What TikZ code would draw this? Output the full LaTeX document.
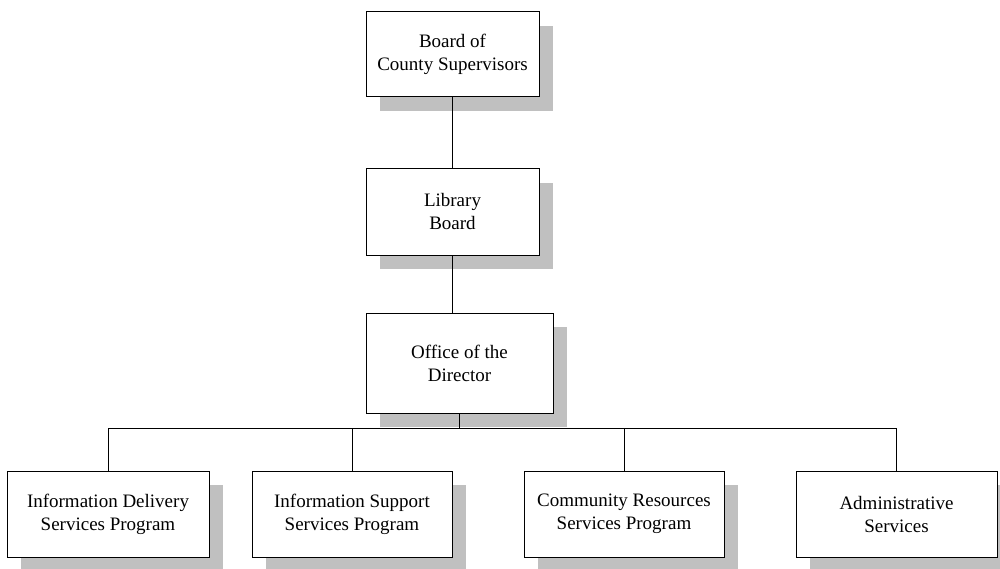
\documentclass[tikz,border=0pt]{standalone}
\usepackage{fontspec}
\setmainfont{Liberation Serif}
\usetikzlibrary{shadows}
\definecolor{shadowgray}{HTML}{C0C0C0}
\begin{document}
\begin{tikzpicture}[x=1pt,y=-1pt,
  orgbox/.style={draw=black, line width=1pt, fill=white, rectangle, align=center,
    inner sep=0pt, font=\fontsize{19}{23}\selectfont,
    drop shadow={shadow xshift=14pt, shadow yshift=-14pt, fill=shadowgray, opacity=1}},
  plainbox/.style={draw=black, line width=1pt, fill=white, rectangle, align=center,
    inner sep=0pt, font=\fontsize{19}{23}\selectfont},
  conn/.style={draw=black, line width=1pt}]
\useasboundingbox[fill=white] (0,0) rectangle (1000,569);
\node[orgbox, minimum width=173pt, minimum height=85pt] (board) at (452.5,54.5) {Board of\\County Supervisors};
\node[orgbox, minimum width=173pt, minimum height=86pt] (lib) at (452.5,212) {Library\\Board};
\node[orgbox, minimum width=187pt, minimum height=100pt] (office) at (459.5,363) {Office of the\\Director};
\node[orgbox, minimum width=202pt, minimum height=86pt] (b1) at (108,514) {Information Delivery\\Services Program};
\node[orgbox, minimum width=200pt, minimum height=86pt] (b2) at (352,514) {Information Support\\Services Program};
\node[orgbox, minimum width=200pt, minimum height=86pt] (b3) at (624,514) {Community Resources\\Services Program};
\node[orgbox, minimum width=201pt, minimum height=86pt] (b4) at (896.5,514) {Administrative\\Services};
\coordinate (bus) at (459.5,428);
\draw[conn] (board.south) -- (lib.north);
\draw[conn] (lib.south) -- (lib.south |- office.north);
\draw[conn] (office.south) -- (bus);
\draw[conn] (b1.north) -- (b1.north |- bus) -- (b4.north |- bus) -- (b4.north);
\draw[conn] (b2.north) -- (b2.north |- bus);
\draw[conn] (b3.north) -- (b3.north |- bus);
\end{tikzpicture}
\end{document}
